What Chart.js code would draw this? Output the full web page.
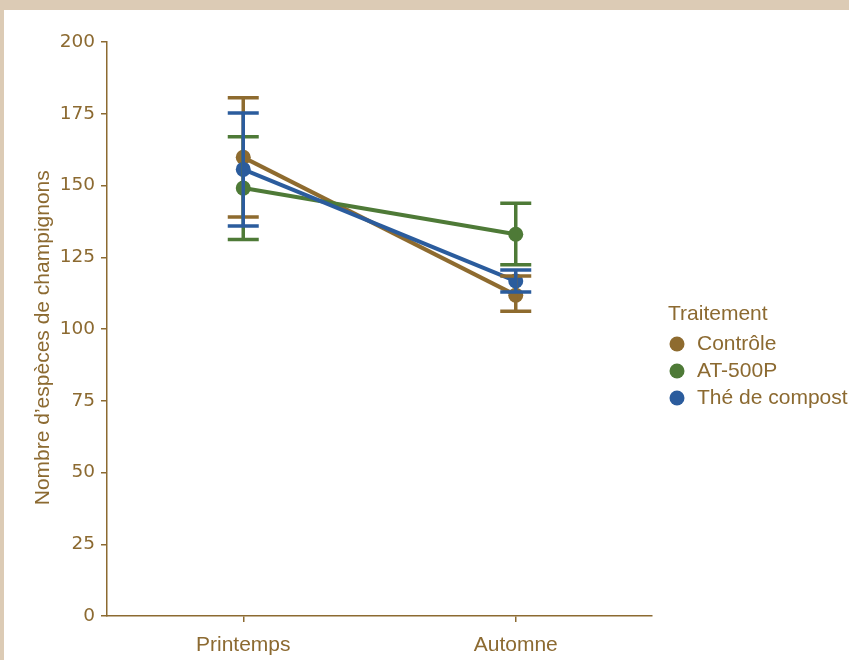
<!DOCTYPE html>
<html lang="fr">
<head>
<meta charset="utf-8">
<title>Nombre d'espèces de champignons</title>
<script src="https://cdn.jsdelivr.net/npm/chart.js@4"></script>
<style>
  body { margin: 0; background: #dccbb5; }
  #panel { position: absolute; left: 4px; top: 10px; right: 0; bottom: 0; background: #fff; }
  #chart { position: absolute; left: 0; top: 0; }
</style>
</head>
<body>
<div id="panel"></div>
<canvas id="chart" width="849" height="660"></canvas>
<script>
// Data
const seasons = ['Printemps', 'Automne'];
const yTicks = [0, 25, 50, 75, 100, 125, 150, 175, 200];

const controle = [159.8, 111.8];
const controleLow = [139.0, 106.2];
const controleHigh = [180.6, 118.5];

const at500p = [149.1, 133.0];
const at500pLow = [131.2, 122.4];
const at500pHigh = [167.0, 143.8];

const theCompost = [155.6, 116.7];
const theCompostLow = [135.9, 112.9];
const theCompostHigh = [175.3, 120.6];

const TEXT = '#8c6a31';
const BROWN = '#8e6b2f';
const GREEN = '#4e7a37';
const BLUE = '#2b5c9d';
const SANS = '"Liberation Sans", Arial, sans-serif';

// Error bars drawn on top of lines and points, in dataset order
const errorBars = {
  id: 'errorBars',
  afterDatasetsDraw(chart) {
    const ctx = chart.ctx;
    const yScale = chart.scales.y;
    chart.data.datasets.forEach((ds, i) => {
      const meta = chart.getDatasetMeta(i);
      ctx.save();
      ctx.strokeStyle = ds.borderColor;
      ctx.lineWidth = 3.5;
      meta.data.forEach((pt, j) => {
        const x = pt.x;
        const yLo = yScale.getPixelForValue(ds.low[j]);
        const yHi = yScale.getPixelForValue(ds.high[j]);
        ctx.beginPath();
        ctx.moveTo(x, yLo);
        ctx.lineTo(x, yHi);
        ctx.moveTo(x - 15.5, yLo);
        ctx.lineTo(x + 15.5, yLo);
        ctx.moveTo(x - 15.5, yHi);
        ctx.lineTo(x + 15.5, yHi);
        ctx.stroke();
      });
      ctx.restore();
    });
  }
};

// Legend on the right with its title
const sideLegend = {
  id: 'sideLegend',
  afterDraw(chart) {
    const ctx = chart.ctx;
    const area = chart.chartArea;
    const mid = (area.top + area.bottom) / 2;
    ctx.save();
    ctx.font = '21px ' + SANS;
    ctx.fillStyle = TEXT;
    ctx.textBaseline = 'middle';
    ctx.textAlign = 'left';
    ctx.fillText('Traitement', area.right + 16, mid - 15);
    chart.data.datasets.forEach((ds, i) => {
      const y = mid + 15 + i * 27;
      ctx.beginPath();
      ctx.fillStyle = ds.borderColor;
      ctx.arc(area.right + 25, y, 7.5, 0, Math.PI * 2);
      ctx.fill();
      ctx.fillStyle = TEXT;
      ctx.fillText(ds.label, area.right + 45, y);
    });
    ctx.restore();
  }
};

function series(label, values, low, high, color, order) {
  return {
    label,
    data: values,
    low,
    high,
    borderColor: color,
    backgroundColor: color,
    borderWidth: 4,
    pointRadius: 7.5,
    pointHoverRadius: 7.5,
    pointBorderWidth: 0,
    tension: 0,
    order
  };
}

new Chart(document.getElementById('chart'), {
  type: 'line',
  data: {
    labels: seasons,
    datasets: [
      series('Contrôle', controle, controleLow, controleHigh, BROWN, 2),
      series('AT-500P', at500p, at500pLow, at500pHigh, GREEN, 1),
      series('Thé de compost', theCompost, theCompostLow, theCompostHigh, BLUE, 0)
    ]
  },
  options: {
    responsive: false,
    animation: false,
    layout: { padding: { left: 0, top: 42, right: 197, bottom: 0 } },
    plugins: {
      legend: { display: false },
      tooltip: { enabled: false }
    },
    scales: {
      x: {
        type: 'category',
        offset: true,
        grid: { offset: false, drawOnChartArea: false, drawTicks: true, tickLength: 6, color: TEXT, lineWidth: 1.5 },
        border: { display: true, color: TEXT, width: 1.5 },
        ticks: {
          color: TEXT,
          padding: 11,
          font: { family: SANS, size: 21 }
        },
        afterFit(scale) { scale.height = 44; }
      },
      y: {
        min: 0,
        max: 200,
        afterBuildTicks(scale) { scale.ticks = yTicks.map(v => ({ value: v })); },
        grid: { drawOnChartArea: false, drawTicks: true, tickLength: 6, color: TEXT, lineWidth: 1.5 },
        border: { display: true, color: TEXT, width: 1.5 },
        ticks: {
          color: TEXT,
          padding: 6,
          font: { family: '"DejaVu Sans", sans-serif', size: 18.5 }
        },
        title: {
          display: true,
          // trailing spaces nudge the rotated title down to match the original
          text: 'Nombre d’espèces de champignons\u00a0\u00a0\u00a0',
          color: TEXT,
          padding: { top: 31, bottom: 0 },
          font: { family: SANS, size: 21 }
        },
        afterFit(scale) { scale.width = 107; }
      }
    }
  },
  plugins: [errorBars, sideLegend]
});
</script>
</body>
</html>
